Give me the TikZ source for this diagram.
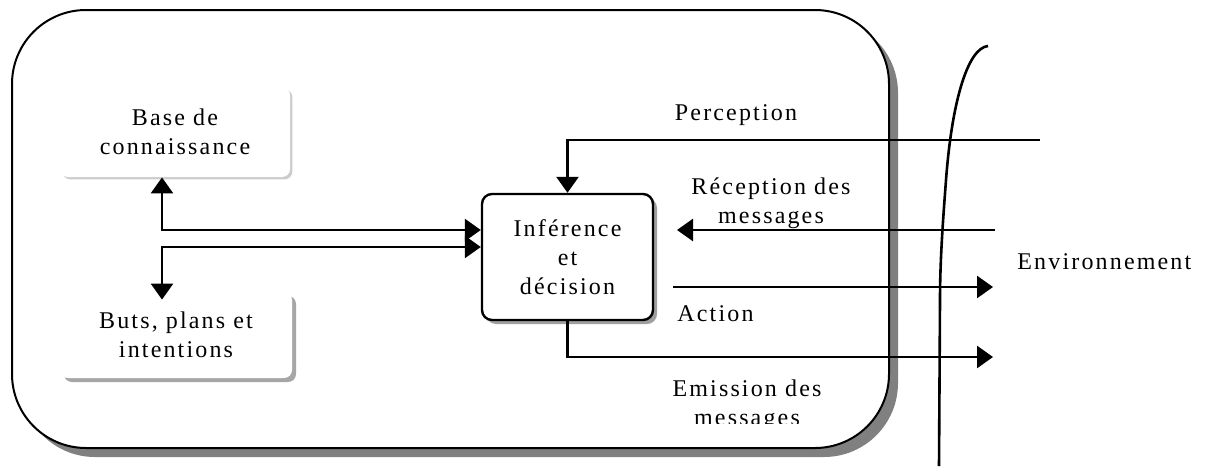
\documentclass[tikz,border=0pt]{standalone}
\usepackage{fontspec}
\setmainfont{Liberation Serif}[LetterSpace=9]
\usetikzlibrary{arrows.meta,shadows}
\begin{document}
\begin{tikzpicture}[x=0.5pt,y=-0.5pt,
  lbl/.style={font=\fontsize{12}{14.5}\selectfont, align=center, inner sep=0pt, text=black},
  link/.style={line width=1.3pt, -{Triangle[length=8pt,width=11pt]}},
  twoway/.style={line width=1.3pt, {Triangle[length=8pt,width=11pt]}-{Triangle[length=8pt,width=11pt]}},
  softbox/.style={lbl, fill=white, rounded corners=4pt, minimum width=115pt, minimum height=45pt,
    drop shadow={shadow xshift=1.2pt, shadow yshift=-1.2pt, fill=gray!40, opacity=1}},
  darkbox/.style={lbl, fill=white, rounded corners=4pt, minimum width=116pt, minimum height=43pt,
    drop shadow={shadow xshift=2pt, shadow yshift=-2pt, fill=gray!70, opacity=1}},
  infbox/.style={lbl, draw, line width=1.2pt, fill=white, rounded corners=5pt,
    minimum width=85.5pt, minimum height=63pt,
    drop shadow={shadow xshift=2pt, shadow yshift=-2pt, fill=gray!75, opacity=1}}
]
\useasboundingbox (0,0) rectangle (1214,466);

% agent frame with its shadow
\fill[gray, rounded corners=37pt] (21,19) rectangle (898,457);
\draw[line width=1pt, fill=white, rounded corners=37pt] (12,10) rectangle (889,448);

% internal modules
\node[softbox] (base) at (175,132) {Base de\\connaissance};
\node[darkbox] (buts) at (176,335) {Buts, plans et\\intentions};
\node[infbox] (inf) at (567.5,257) {Inférence\\et\\décision};

% free ends of the environment links
\coordinate (percIn) at (1040,140);
\coordinate (recIn) at (995,230);
\coordinate (recTip) at (677,230);
\coordinate (actOut) at (673,287);
\coordinate (actTip) at (993,287);
\coordinate (emiTip) at (993,357);

% internal links
\draw[twoway] ([xshift=-6.5pt]base.south) |- ([yshift=13.5pt]inf.west);
\draw[twoway] ([xshift=-7pt,yshift=-4pt]buts.north) |- ([yshift=5pt]inf.west);

% environment links
\draw[link] (percIn) -| (inf.north);
\draw[link] (recIn) -- (recTip);
\draw[link] (actOut) -- (actTip);
\draw[link] (inf.south) |- (emiTip);

% boundary of the environment
\draw[line width=1.3pt] (988,46) .. controls (968,48) and (952,100) .. (946,180)
  .. controls (943,220) and (940,260) .. (940,300) -- (939,466);

% labels
\node[lbl] (lperc) at (736,115) {Perception};
\node[lbl] (lrec) at (771,203) {Réception des\\messages};
\node[lbl, anchor=west] (lenv) at (1017,262) {Environnement};
\node[lbl, anchor=west] (lact) at (677,314) {Action};
\begin{scope}
  \clip (600,370) rectangle (900,423);
  \node[lbl] (lemi) at (747,405) {Emission des\\messages};
\end{scope}
\end{tikzpicture}
\end{document}
